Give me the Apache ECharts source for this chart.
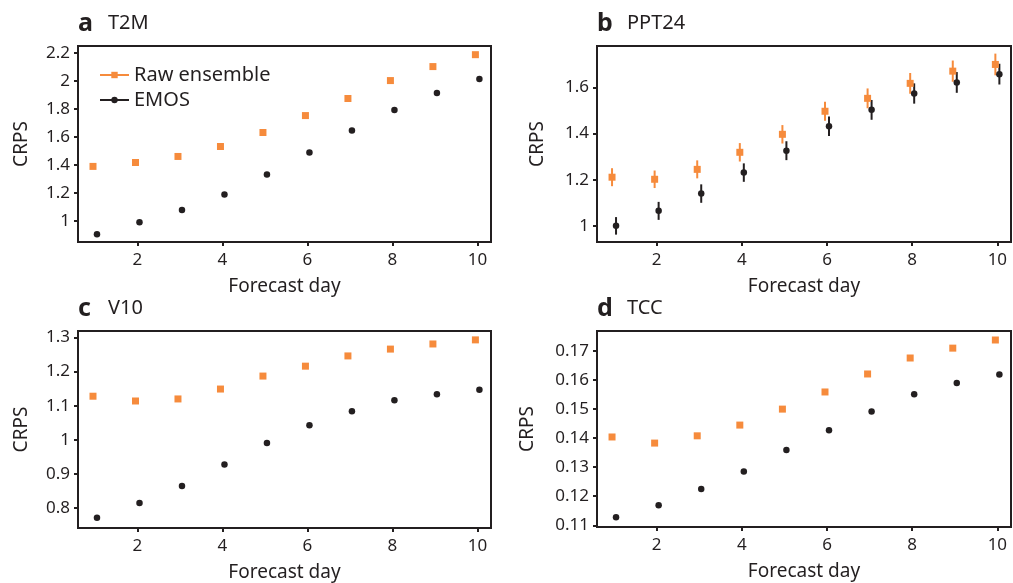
<!DOCTYPE html>
<html>
<head>
<meta charset="utf-8">
<script src="https://cdn.jsdelivr.net/npm/echarts@6/dist/echarts.min.js"></script>
<style>
html,body{margin:0;padding:0;background:#fff;}
#chart{width:1013px;height:583px;}
</style>
</head>
<body>
<div id="chart"></div>
<script>
// ---- data ----
const days = [1, 2, 3, 4, 5, 6, 7, 8, 9, 10];
const xTicks = [2, 4, 6, 8, 10];

const t2mRaw  = [1.390, 1.418, 1.461, 1.532, 1.632, 1.753, 1.875, 2.003, 2.103, 2.188];
const t2mEmos = [0.905, 0.991, 1.078, 1.190, 1.333, 1.490, 1.646, 1.793, 1.915, 2.014];
const t2mTicks = [1, 1.2, 1.4, 1.6, 1.8, 2, 2.2];

const pptRaw  = [1.211, 1.202, 1.245, 1.319, 1.397, 1.497, 1.553, 1.618, 1.671, 1.700];
const pptEmos = [1.000, 1.065, 1.140, 1.231, 1.326, 1.432, 1.503, 1.574, 1.622, 1.658];
const pptRawErr  = [0.039, 0.038, 0.039, 0.040, 0.040, 0.041, 0.043, 0.045, 0.046, 0.047];
const pptEmosErr = [0.038, 0.039, 0.040, 0.040, 0.041, 0.042, 0.043, 0.044, 0.045, 0.045];
const pptTicks = [1, 1.2, 1.4, 1.6];

const v10Raw  = [1.128, 1.114, 1.120, 1.149, 1.187, 1.216, 1.246, 1.266, 1.281, 1.293];
const v10Emos = [0.772, 0.815, 0.865, 0.928, 0.991, 1.043, 1.084, 1.116, 1.134, 1.147];
const v10Ticks = [0.8, 0.9, 1, 1.1, 1.2, 1.3];

const tccRaw  = [0.1404, 0.1383, 0.1408, 0.1445, 0.1500, 0.1559, 0.1621, 0.1676, 0.1710, 0.1738];
const tccEmos = [0.1128, 0.1169, 0.1225, 0.1285, 0.1359, 0.1427, 0.1492, 0.1551, 0.1590, 0.1619];
const tccTicks = [0.11, 0.12, 0.13, 0.14, 0.15, 0.16, 0.17];

const panelLetters = ['a', 'b', 'c', 'd'];
const panelNames = ['T2M', 'PPT24', 'V10', 'TCC'];
const seriesNames = ['Raw ensemble', 'EMOS'];

// ---- styling ----
const ORANGE = '#F68B3C';
const BLACK = '#231F20';
const FONT = '"Noto Sans", "DejaVu Sans", sans-serif';

const grids = [
  {left: 78, top: 46, width: 413, height: 196},
  {left: 597, top: 46, width: 414, height: 196},
  {left: 78, top: 331, width: 413, height: 197},
  {left: 597, top: 331, width: 414, height: 196}
];
const yRanges = [[0.85, 2.25], [0.93, 1.78], [0.742, 1.319], [0.1094, 0.1769]];
const yTickSets = [t2mTicks, pptTicks, v10Ticks, tccTicks];
const yNameGaps = [47, 50, 47, 60];

const chart = echarts.init(document.getElementById('chart'));

const gridOpts = grids.map(g => Object.assign({
  show: true, borderColor: BLACK, borderWidth: 2, backgroundColor: 'transparent', containLabel: false
}, g));

const xAxes = grids.map((g, i) => ({
  type: 'value', gridIndex: i, min: 0.6, max: 10.32,
  name: 'Forecast day', nameLocation: 'middle', nameGap: 35,
  nameTextStyle: {fontFamily: FONT, fontSize: 19, color: BLACK},
  axisLine: {show: false},
  axisTick: {show: true, length: 4, lineStyle: {color: BLACK, width: 2}, customValues: xTicks},
  axisLabel: {fontFamily: FONT, fontSize: 17, color: BLACK, margin: 10, customValues: xTicks},
  splitLine: {show: false}
}));

const yAxes = grids.map((g, i) => ({
  type: 'value', gridIndex: i, min: yRanges[i][0], max: yRanges[i][1],
  name: 'CRPS', nameLocation: 'middle', nameGap: yNameGaps[i], nameRotate: 90,
  nameTextStyle: {fontFamily: FONT, fontSize: 19, color: BLACK},
  axisLine: {show: false},
  axisTick: {show: true, length: 4, lineStyle: {color: BLACK, width: 2}, customValues: yTickSets[i]},
  axisLabel: {fontFamily: FONT, fontSize: 17, color: BLACK, margin: 8, customValues: yTickSets[i],
    formatter: v => String(+v.toFixed(3))},
  splitLine: {show: false}
}));

function pts(vals) { return days.map((d, k) => [d, vals[k]]); }
function errPts(vals, errs) { return days.map((d, k) => [d, vals[k] - errs[k], vals[k] + errs[k]]); }

function errSeries(idx, vals, errs, color, off, name) {
  return {
    type: 'custom', name: name, xAxisIndex: idx, yAxisIndex: idx,
    data: errPts(vals, errs), silent: true, z: 2,
    encode: {x: 0, y: [1, 2]},
    renderItem: function (params, api) {
      const x = api.value(0);
      const p1 = api.coord([x, api.value(1)]);
      const p2 = api.coord([x, api.value(2)]);
      return {type: 'line', shape: {x1: p1[0] + off, y1: p1[1], x2: p2[0] + off, y2: p2[1]},
        style: {stroke: color, lineWidth: 2}};
    }
  };
}

const rawSets = [t2mRaw, pptRaw, v10Raw, tccRaw];
const emosSets = [t2mEmos, pptEmos, v10Emos, tccEmos];

const series = [];
for (let i = 0; i < 4; i++) {
  const isLine = (i === 0);
  series.push({
    type: isLine ? 'line' : 'scatter', name: seriesNames[0], xAxisIndex: i, yAxisIndex: i,
    data: pts(rawSets[i]), symbol: 'rect', symbolSize: 7, symbolOffset: [-2, 0],
    showSymbol: true, z: 4,
    itemStyle: {color: ORANGE, opacity: 1}, lineStyle: {width: 0, opacity: 0, color: ORANGE},
    emphasis: {disabled: true}
  });
  series.push({
    type: isLine ? 'line' : 'scatter', name: seriesNames[1], xAxisIndex: i, yAxisIndex: i,
    data: pts(emosSets[i]), symbol: 'circle', symbolSize: 6.5, symbolOffset: [2, 0],
    showSymbol: true, z: 3,
    itemStyle: {color: BLACK, opacity: 1}, lineStyle: {width: 0, opacity: 0, color: BLACK},
    emphasis: {disabled: true}
  });
}
series.push(errSeries(1, pptEmos, pptEmosErr, BLACK, 2, seriesNames[1]));
series.push(errSeries(1, pptRaw, pptRawErr, ORANGE, -2, seriesNames[0]));

const titlePos = [[78, 26], [597, 26], [78, 311], [597, 311]];
const graphics = [];
for (let i = 0; i < 4; i++) {
  graphics.push({
    type: 'text', left: titlePos[i][0], top: titlePos[i][1] - 15,
    style: {
      text: '{l|' + panelLetters[i] + '}{n|' + panelNames[i] + '}',
      rich: {
        l: {fontFamily: FONT, fontWeight: 'bold', fontSize: 25, fill: BLACK, width: 30, lineHeight: 30},
        n: {fontFamily: FONT, fontSize: 20, fill: BLACK, lineHeight: 30}
      }
    }
  });
}

chart.setOption({
  animation: false,
  backgroundColor: '#fff',
  grid: gridOpts,
  xAxis: xAxes,
  yAxis: yAxes,
  legend: {
    data: seriesNames, orient: 'vertical', left: 94, top: 59,
    itemWidth: 29, itemHeight: 8, itemGap: 3,
    textStyle: {fontFamily: FONT, fontSize: 20, color: BLACK, lineHeight: 22},
    lineStyle: {width: 2, opacity: 1},
    selectedMode: false
  },
  graphic: graphics,
  series: series
});
</script>
</body>
</html>
